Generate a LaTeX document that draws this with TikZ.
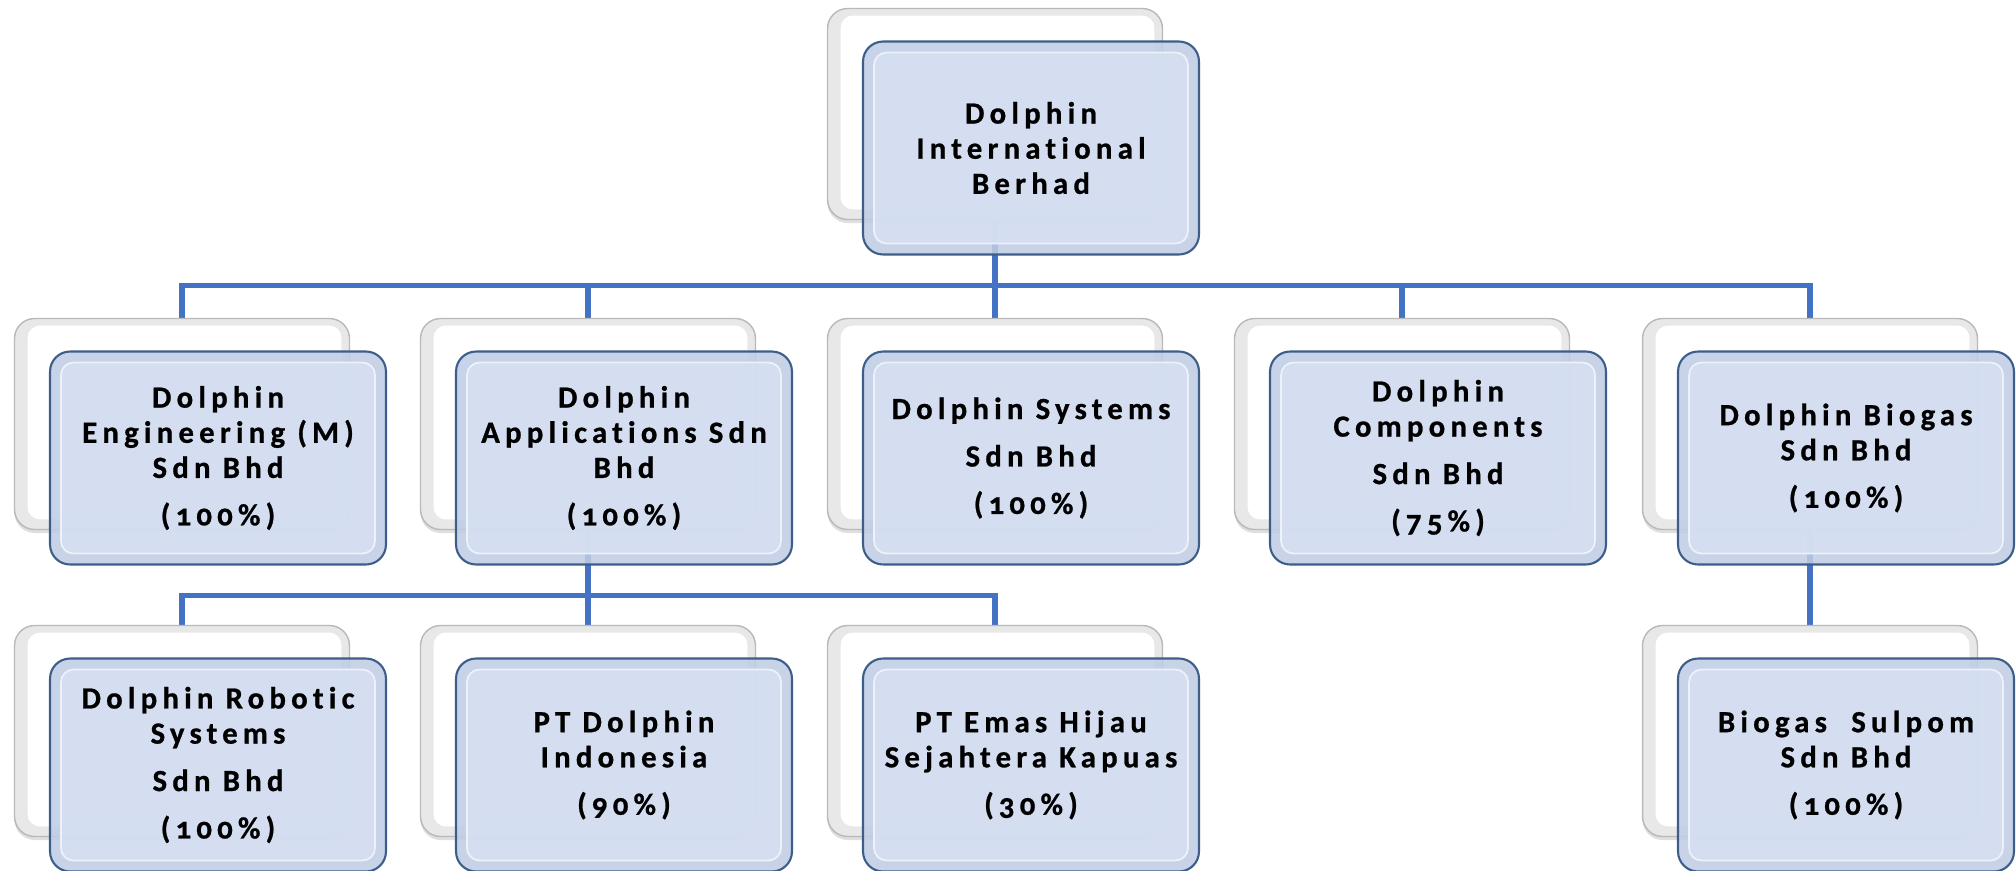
\documentclass[tikz,border=0pt]{standalone}
\usepackage{fontspec}
\setmainfont{Carlito}[LetterSpace=17,Numbers=OldStyle,RawFeature=-liga,BoldFeatures={FakeBold=0.8}]
\usetikzlibrary{calc,backgrounds,shadows}

\definecolor{linkblue}{RGB}{68,114,196}
\definecolor{cardfill}{RGB}{214,224,242}
\definecolor{cardrim}{RGB}{192,205,229}
\definecolor{cardline}{RGB}{62,94,138}

% one card = a white card behind, a blue card in front
\newcommand{\orgcard}[4]{%
  \node[backcard] (#1B) at ({#2-36},{#3-34}) {};
  \node[card] (#1) at (#2,#3) {#4};
}

\begin{document}
\begin{tikzpicture}[
    x=0.02cm, y=-0.02cm,
    card/.style={rectangle, rounded corners=0.4cm, draw=cardline, line width=1.2pt, fill=cardrim, fill opacity=0.88, text opacity=1, minimum width=6.72cm, minimum height=4.26cm, align=center, font=\bfseries\fontsize{17.5}{20}\selectfont,
        path picture={\draw[white!55!cardfill, line width=1pt, fill=cardfill, rounded corners=0.25cm] ($(path picture bounding box.south west)+(0.22cm,0.22cm)$) rectangle ($(path picture bounding box.north east)+(-0.22cm,-0.22cm)$);}},
    backcard/.style={rectangle, rounded corners=0.4cm, draw=gray!55, line width=0.8pt, fill=gray!18, minimum width=6.7cm, minimum height=4.22cm,
        drop shadow={shadow xshift=0pt, shadow yshift=-2pt, opacity=0.25},
        path picture={\fill[white, rounded corners=0.25cm] ($(path picture bounding box.south west)+(0.26cm,0.2cm)$) rectangle ($(path picture bounding box.north east)+(-0.16cm,-0.14cm)$);}},
    link/.style={draw=linkblue, line width=3pt}
]
    \useasboundingbox (0,0) rectangle (2016,870);

    \orgcard{intl}{1031}{148}{Dolphin\\International\\Berhad}

    \orgcard{eng}{218}{458}{Dolphin\\Engineering (M)\\Sdn Bhd\\[7pt](100\%)}
    \orgcard{app}{624}{458}{Dolphin\\Applications Sdn\\Bhd\\[7pt](100\%)}
    \orgcard{sys}{1031}{458}{Dolphin Systems\\[7pt]Sdn Bhd\\[7pt](100\%)}
    \orgcard{comp}{1438}{458}{Dolphin\\Components\\[7pt]Sdn Bhd\\[7pt](75\%)}
    \orgcard{bio}{1846}{458}{Dolphin Biogas\\Sdn Bhd\\[7pt](100\%)}

    \orgcard{rob}{218}{765}{Dolphin Robotic\\Systems\\[7pt]Sdn Bhd\\[7pt](100\%)}
    \orgcard{indo}{624}{765}{PT Dolphin\\Indonesia\\[7pt](90\%)}
    \orgcard{emas}{1031}{765}{PT Emas Hijau\\Sejahtera Kapuas\\[7pt](30\%)}
    \orgcard{sul}{1846}{765}{Biogas\ \ Sulpom\\Sdn Bhd\\[7pt](100\%)}

    \begin{scope}[on background layer]
        \coordinate (busA) at ($(intlB.south)+(0,65)$);
        \coordinate (busB) at ($(appB.south)+(0,65)$);
        \draw[link] (intlB.south) -- (busA);
        \foreach \c in {engB,appB,sysB,compB,bioB}
            \draw[link] (\c.north) |- (busA);
        \draw[link] (appB.south) -- (busB);
        \foreach \c in {robB,indoB,emasB}
            \draw[link] (\c.north) |- (busB);
        \draw[link] (bioB.south) -- (sulB.north);
    \end{scope}
\end{tikzpicture}
\end{document}
